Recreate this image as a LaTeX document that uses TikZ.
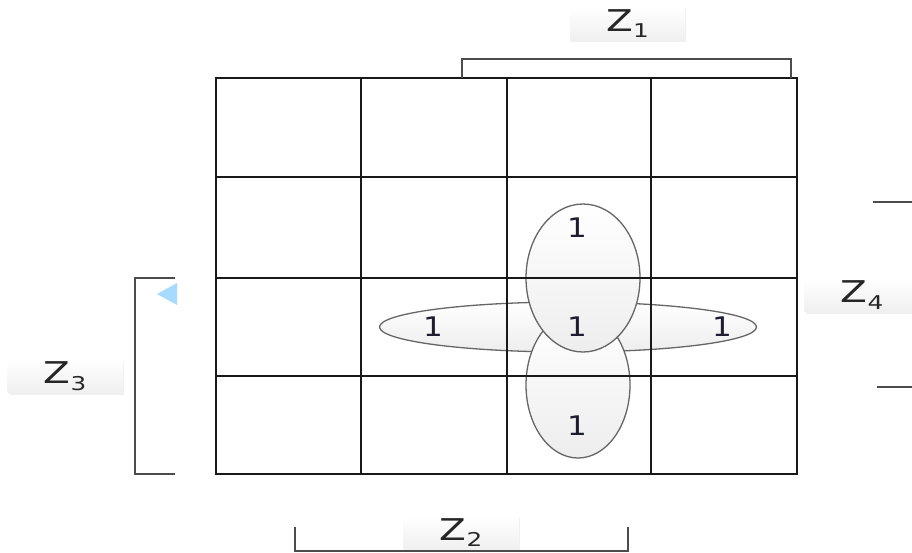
\documentclass[tikz,border=0pt]{standalone}
\usepackage{fontspec}
\setmainfont{DejaVu Sans}
\newfontfamily\zfont[FakeStretch=1.3]{DejaVu Sans}
\newfontfamily\onefont[FakeStretch=1.15]{DejaVu Sans}
\usetikzlibrary{shapes.geometric,shadows}
\definecolor{digit}{RGB}{28,30,48}
\newcommand{\zsub}[1]{\raisebox{-0.22em}{\fontsize{19}{20}\selectfont #1}}
\begin{document}
\begin{tikzpicture}[x=1pt,y=-1pt,
  gridline/.style={line width=2.2pt,black!90},
  bracket/.style={line width=1.6pt,black!70},
  lbl/.style={rectangle, minimum width=115pt, minimum height=33pt, inner sep=0pt,
    top color=white, bottom color=gray!12,
    drop shadow={shadow xshift=1pt,shadow yshift=-2pt,opacity=0.12},
    font=\zfont\fontsize{30}{32}\selectfont, text=black!85},
  loop/.style={ellipse, inner sep=0pt, draw=black!60, line width=1.3pt,
    top color=white, bottom color=gray!14},
  one/.style={font=\onefont\fontsize{27}{28}\selectfont, text=digit, inner sep=0pt}
]
\useasboundingbox (0,0) rectangle (912,552);
% loops
\node[loop, minimum width=377pt, minimum height=50pt] (hl) at (568,327) {};
\node[loop, minimum width=104pt, minimum height=146pt] (vb) at (578,385) {};
\node[loop, minimum width=114pt, minimum height=148pt] (vt) at (583,278) {};
% grid
\draw[gridline] (216,78) rectangle (797,474);
\foreach \x in {361,507,651} \draw[gridline] (\x,78) -- (\x,474);
\foreach \y in {177,278,376} \draw[gridline] (216,\y) -- (797,\y);
% ones
\node[one] (o1) at (577,228) {1};
\node[one] (o2) at (577,327) {1};
\node[one] (o3) at (433,327) {1};
\node[one] (o4) at (722,327) {1};
\node[one] (o5) at (577,426) {1};
% labels
\node[lbl] (z1) at (627.5,23.5) {Z\zsub{1}};
\node[lbl] (z3) at (65,376) {Z\zsub{3}};
\node[lbl] (z4) at (862,295) {Z\zsub{4}};
\node[lbl] (z2) at (461,532.5) {Z\zsub{2}};
% brackets
\coordinate (b1a) at (462,78); \coordinate (b1b) at (791,78);
\draw[bracket] (b1a) -- (462,59) -- (791,59) -- (b1b);
\coordinate (b3a) at (175,278); \coordinate (b3b) at (175,474);
\draw[bracket] (b3a) -- (135,278) -- (135,474) -- (b3b);
\coordinate (b2a) at (295,527); \coordinate (b2b) at (628,527);
\draw[bracket] (b2a) -- (295,551) -- (628,551) -- (b2b);
\coordinate (b4a) at (873,202); \coordinate (b4b) at (912,202);
\draw[bracket] (b4a) -- (b4b);
\coordinate (b4c) at (877,387); \coordinate (b4d) at (912,387);
\draw[bracket] (b4c) -- (b4d);
% triangle marker
\fill[blue!40!cyan!35] (177,283) -- (177,305) -- (157,294) -- cycle;
\end{tikzpicture}
\end{document}
